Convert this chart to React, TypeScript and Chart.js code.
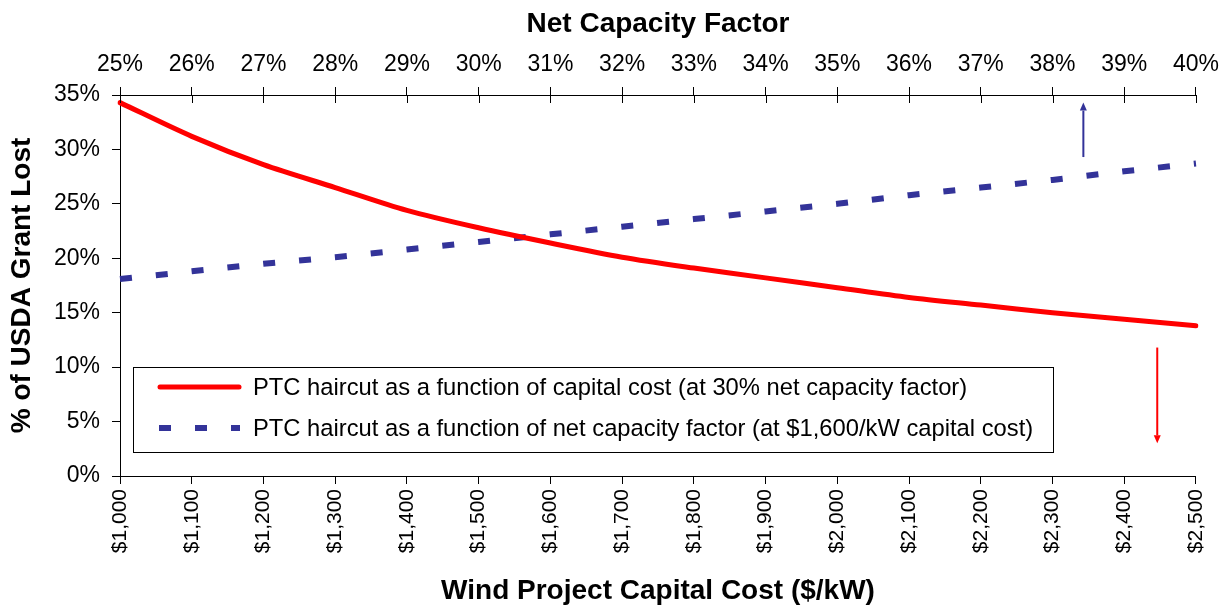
import React, { useEffect, useRef } from "react";
import { Chart, registerables } from "chart.js";

Chart.register(...registerables);

const FONT = '"Liberation Sans", Arial, Helvetica, sans-serif';

// Bottom axis categories (wind project capital cost, $/kW)
const capitalCosts = [
  "$1,000", "$1,100", "$1,200", "$1,300", "$1,400", "$1,500", "$1,600", "$1,700",
  "$1,800", "$1,900", "$2,000", "$2,100", "$2,200", "$2,300", "$2,400", "$2,500",
];

// Top axis categories (net capacity factor)
const capacityFactors = [
  "25%", "26%", "27%", "28%", "29%", "30%", "31%", "32%",
  "33%", "34%", "35%", "36%", "37%", "38%", "39%", "40%",
];

// % of USDA grant lost, as a function of capital cost (at 30% NCF)
const haircutByCapitalCost = [
  34.3, 31.2, 28.6, 26.5, 24.4, 22.8, 21.4, 20.1,
  19.1, 18.2, 17.3, 16.4, 15.7, 15.0, 14.4, 13.8,
];

// % of USDA grant lost, as a function of net capacity factor (at $1,600/kW)
const haircutByCapacityFactor = [
  18.1, 18.8, 19.5, 20.1, 20.8, 21.5, 22.2, 22.9,
  23.6, 24.3, 25.0, 25.8, 26.5, 27.2, 28.0, 28.7,
];

const seriesLabels = [
  "PTC haircut as a function of capital cost (at 30% net capacity factor)",
  "PTC haircut as a function of net capacity factor (at $1,600/kW capital cost)",
];

// Annotation arrows (x in category index units, y in %)
const arrowNotes = [
  { xIndex: 13.43, from: 29.3, to: 34.3, color: "#333399" },
  { xIndex: 14.46, from: 11.8, to: 3.0, color: "#FF0000" },
];

const topInnerTicks = {
  id: "topInnerTicks",
  afterDraw(chart: any) {
    const { ctx, chartArea } = chart;
    const s = chart.scales.x2;
    ctx.save();
    ctx.strokeStyle = "#000";
    ctx.lineWidth = 1;
    ctx.beginPath();
    for (let i = 0; i < s.ticks.length; i++) {
      const x = Math.round(s.getPixelForTick(i)) + 0.5;
      ctx.moveTo(x, chartArea.top);
      ctx.lineTo(x, chartArea.top + 8);
    }
    ctx.stroke();
    ctx.restore();
  },
};

const arrowsPlugin = {
  id: "arrowsPlugin",
  afterDatasetsDraw(chart: any) {
    const { ctx } = chart;
    const xs = chart.scales.x;
    const ys = chart.scales.y;
    ctx.save();
    arrowNotes.forEach((a) => {
      const x = xs.getPixelForValue(a.xIndex);
      const y0 = ys.getPixelForValue(a.from);
      const y1 = ys.getPixelForValue(a.to);
      const dir = y1 < y0 ? -1 : 1;
      const headLen = 8;
      ctx.strokeStyle = a.color;
      ctx.fillStyle = a.color;
      ctx.lineWidth = 2;
      ctx.beginPath();
      ctx.moveTo(x, y0);
      ctx.lineTo(x, y1 - dir * headLen);
      ctx.stroke();
      ctx.beginPath();
      ctx.moveTo(x, y1);
      ctx.lineTo(x - 3.5, y1 - dir * headLen);
      ctx.lineTo(x + 3.5, y1 - dir * headLen);
      ctx.closePath();
      ctx.fill();
    });
    ctx.restore();
  },
};

const boxLegend = {
  id: "boxLegend",
  afterDatasetsDraw(chart: any) {
    const { ctx, chartArea } = chart;
    const left = chartArea.left + 13;
    const top = chartArea.top + 272;
    const height = 85;
    const textX = left + 120;
    ctx.save();
    ctx.font = `23.75px ${FONT}`;
    const widths = chart.data.datasets.map((d: any) => ctx.measureText(d.label).width);
    const width = textX - left + Math.max(...widths) + 20;
    ctx.fillStyle = "#fff";
    ctx.fillRect(left, top, width, height);
    ctx.strokeStyle = "#000";
    ctx.lineWidth = 1;
    ctx.strokeRect(Math.round(left) + 0.5, Math.round(top) + 0.5, Math.round(width), height);
    chart.data.datasets.forEach((ds: any, i: number) => {
      const y = top + 20 + i * 41;
      ctx.save();
      ctx.beginPath();
      ctx.strokeStyle = ds.borderColor;
      ctx.lineWidth = ds.borderWidth;
      ctx.setLineDash(ds.borderDash || []);
      ctx.lineCap = ds.borderCapStyle || "butt";
      if (ds.borderCapStyle === "round") {
        ctx.moveTo(left + 27, y);
        ctx.lineTo(left + 106, y);
      } else {
        ctx.moveTo(left + 26, y);
        ctx.lineTo(left + 107, y);
      }
      ctx.stroke();
      ctx.restore();
      ctx.fillStyle = "#000";
      ctx.textBaseline = "middle";
      ctx.textAlign = "left";
      ctx.fillText(ds.label, textX, y + 1);
    });
    ctx.restore();
  },
};

export default function App() {
  const canvasRef = useRef<HTMLCanvasElement | null>(null);

  useEffect(() => {
    if (!canvasRef.current) return;
    Chart.defaults.font.family = FONT;
    const axisGrid = {
      drawOnChartArea: false,
      drawTicks: true,
      tickLength: 8,
      color: "#000",
      lineWidth: 1,
    };
    const chart = new Chart(canvasRef.current, {
      type: "line",
      data: {
        labels: capitalCosts,
        datasets: [
          {
            label: seriesLabels[0],
            data: haircutByCapitalCost,
            borderColor: "#FF0000",
            backgroundColor: "#FF0000",
            borderWidth: 5,
            borderCapStyle: "round",
            borderJoinStyle: "round",
            pointRadius: 0,
            tension: 0.3,
            fill: false,
          },
          {
            label: seriesLabels[1],
            data: haircutByCapacityFactor,
            borderColor: "#333399",
            backgroundColor: "#333399",
            borderWidth: 6,
            borderDash: [12, 24],
            borderCapStyle: "butt",
            pointRadius: 0,
            tension: 0,
            fill: false,
          },
        ],
      },
      options: {
        responsive: false,
        animation: false,
        devicePixelRatio: 1,
        layout: { padding: { left: 0, right: 32, top: 0, bottom: 0 } },
        plugins: {
          legend: { display: false },
          tooltip: { enabled: false },
        },
        scales: {
          x: {
            type: "category",
            position: "bottom",
            offset: false,
            grid: axisGrid,
            border: { color: "#000", width: 1 },
            ticks: {
              autoSkip: false,
              minRotation: 90,
              maxRotation: 90,
              padding: 5,
              color: "#000",
              font: { size: 21, family: FONT },
            },
            title: {
              display: true,
              text: "Wind Project Capital Cost ($/kW)",
              color: "#000",
              font: { size: 28, weight: "bold", family: FONT },
              padding: { top: 0, bottom: -1 },
            },
            afterFit: (s: any) => {
              s.height = 131;
            },
          },
          x2: {
            type: "category",
            position: "top",
            labels: capacityFactors,
            offset: false,
            grid: axisGrid,
            border: { color: "#000", width: 1 },
            ticks: {
              autoSkip: false,
              minRotation: 0,
              maxRotation: 0,
              padding: 9,
              color: "#000",
              font: { size: 23, family: FONT },
            },
            title: {
              display: true,
              text: "Net Capacity Factor",
              color: "#000",
              font: { size: 28, weight: "bold", family: FONT },
              padding: { top: 7, bottom: 0 },
            },
            afterFit: (s: any) => {
              s.height = 95;
            },
          },
          y: {
            type: "linear",
            min: 0,
            max: 35,
            grid: axisGrid,
            border: { color: "#000", width: 1 },
            ticks: {
              stepSize: 5,
              padding: 12,
              color: "#000",
              font: { size: 23, family: FONT },
              callback: (v: any) => `${v}%`,
            },
            title: {
              display: true,
              text: "% of USDA Grant Lost",
              color: "#000",
              font: { size: 28, weight: "bold", family: FONT },
              padding: { top: 5, bottom: 0 },
            },
            afterFit: (s: any) => {
              s.width = 120;
            },
          },
        },
      },
      plugins: [topInnerTicks, arrowsPlugin, boxLegend],
    } as any);
    return () => chart.destroy();
  }, []);

  return (
    <div style={{ position: "absolute", left: 0, top: 0, width: 1228, height: 607, background: "#fff" }}>
      <canvas ref={canvasRef} width={1228} height={607} style={{ display: "block" }} />
    </div>
  );
}
